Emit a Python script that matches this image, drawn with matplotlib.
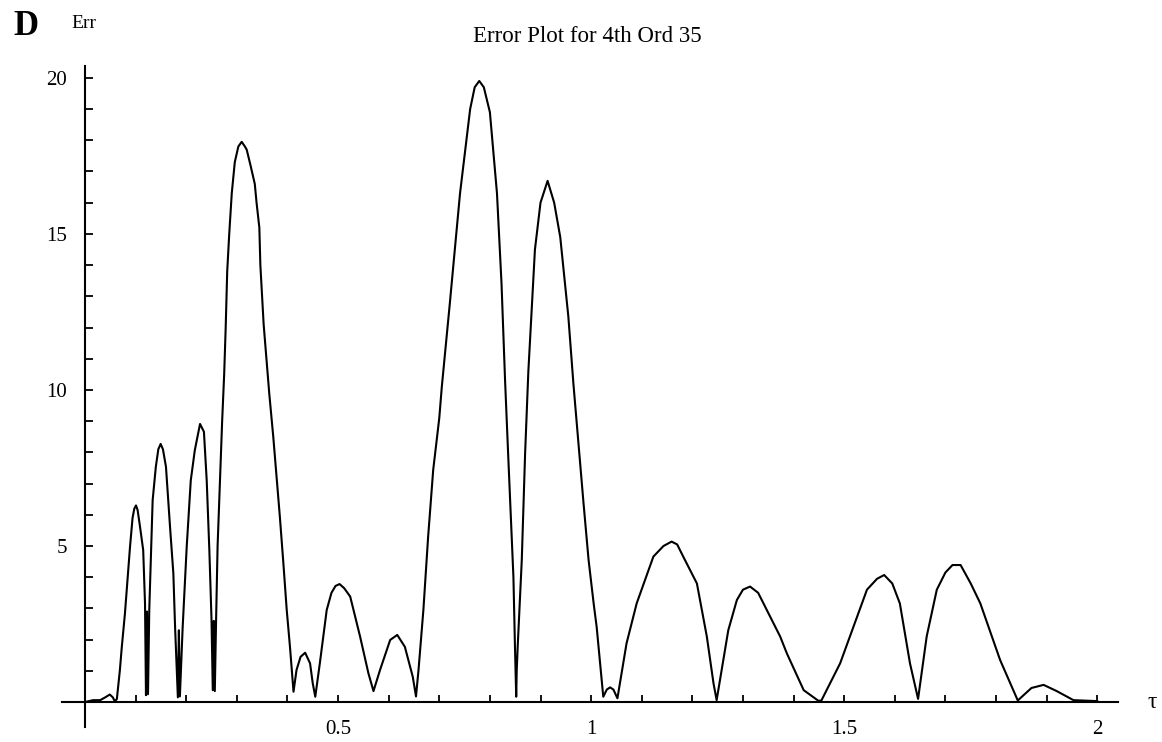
import numpy as np
import matplotlib.pyplot as plt
from matplotlib.ticker import MultipleLocator

#values
tau = [
    0.000, 0.016, 0.030, 0.040, 0.049, 0.055, 0.059, 0.063, 0.069, 0.0725,
    0.079, 0.084, 0.089, 0.094, 0.0975, 0.1008, 0.104, 0.1087, 0.115, 0.1186,
    0.1205, 0.1225, 0.1245, 0.127, 0.1337, 0.140, 0.1449, 0.1495, 0.154, 0.160,
    0.168, 0.1746, 0.178, 0.1835, 0.1855, 0.1875, 0.193, 0.201, 0.209, 0.217,
    0.2273, 0.235, 0.2405, 0.2457, 0.250, 0.2525, 0.2545, 0.2565, 0.259, 0.262,
    0.2665, 0.271, 0.275, 0.278, 0.281, 0.285, 0.290, 0.296, 0.303, 0.3096,
    0.316, 0.3195, 0.327, 0.3355, 0.339, 0.3445, 0.3465, 0.353, 0.3584, 0.364,
    0.372, 0.379, 0.385, 0.392, 0.3986, 0.405, 0.412, 0.418, 0.426, 0.435,
    0.4447, 0.450, 0.455, 0.464, 0.4776, 0.487, 0.495, 0.503, 0.512, 0.524,
    0.5435, 0.560, 0.570, 0.583, 0.603, 0.617, 0.632, 0.6476, 0.654, 0.659,
    0.6686, 0.678, 0.688, 0.700, 0.705, 0.721, 0.741, 0.761, 0.770, 0.779,
    0.788, 0.800, 0.814, 0.823, 0.830, 0.836, 0.8465, 0.8495, 0.851, 0.852,
    0.853, 0.855, 0.863, 0.8696, 0.876, 0.889, 0.900, 0.914, 0.927, 0.939,
    0.955, 0.965, 0.975, 0.985, 0.995, 1.005, 1.011, 1.024, 1.031, 1.0375,
    1.044, 1.052, 1.070, 1.090, 1.097, 1.123, 1.143, 1.159, 1.170, 1.182,
    1.209, 1.2286, 1.2418, 1.248, 1.258, 1.271, 1.288, 1.300, 1.314, 1.330,
    1.347, 1.3735, 1.3867, 1.420, 1.449, 1.455, 1.492, 1.545, 1.565, 1.579,
    1.595, 1.610, 1.630, 1.646, 1.663, 1.683, 1.700, 1.714, 1.730, 1.750,
    1.769, 1.808, 1.843, 1.870, 1.894, 1.920, 1.953, 2.000,
]
err = [
    0.00, 0.06, 0.06, 0.15, 0.24, 0.15, 0.02, 0.10, 1.03, 1.72,
    2.85, 3.90, 4.98, 5.90, 6.20, 6.30, 6.15, 5.62, 4.87, 3.16,
    0.22, 2.90, 0.25, 2.95, 6.47, 7.54, 8.10, 8.27, 8.10, 7.54,
    5.62, 4.12, 2.40, 0.15, 2.30, 0.18, 2.40, 4.98, 7.10, 8.07,
    8.91, 8.66, 7.10, 4.87, 2.63, 0.38, 2.60, 0.35, 2.60, 5.00,
    7.00, 9.00, 10.5, 12.0, 13.8, 15.0, 16.3, 17.3, 17.8, 17.95,
    17.8, 17.7, 17.2, 16.6, 16.0, 15.2, 14.0, 12.1, 11.0, 9.9,
    8.5, 7.1, 5.94, 4.44, 2.95, 1.77, 0.33, 1.03, 1.45, 1.58,
    1.24, 0.60, 0.17, 1.24, 2.95, 3.50, 3.72, 3.78, 3.65, 3.38,
    2.10, 0.92, 0.35, 1.03, 1.99, 2.15, 1.77, 0.81, 0.18, 1.03,
    2.95, 5.30, 7.44, 9.10, 10.1, 12.8, 16.3, 19.0, 19.7, 19.9,
    19.7, 18.9, 16.3, 13.4, 10.3, 7.97, 4.00, 1.80, 0.90, 0.17,
    1.00, 1.80, 4.55, 7.97, 10.6, 14.5, 16.0, 16.7, 16.0, 14.9,
    12.35, 10.2, 8.3, 6.37, 4.55, 3.16, 2.40, 0.17, 0.40, 0.47,
    0.40, 0.12, 1.88, 3.16, 3.48, 4.66, 5.00, 5.14, 5.05, 4.66,
    3.80, 2.10, 0.60, 0.06, 1.03, 2.30, 3.27, 3.60, 3.70, 3.50,
    2.95, 2.10, 1.56, 0.38, 0.04, 0.05, 1.24, 3.60, 3.95, 4.07,
    3.80, 3.16, 1.24, 0.10, 2.10, 3.60, 4.15, 4.39, 4.39, 3.80,
    3.16, 1.35, 0.05, 0.45, 0.55, 0.35, 0.06, 0.03,
]

x_ticks = [0.5, 1, 1.5, 2]
x_tick_labels = ['0.5', '1', '1.5', '2']
y_ticks = [5, 10, 15, 20]
y_tick_labels = ['5', '10', '15', '20']

W, H = 1162, 742
fig = plt.figure(figsize=(W / 100, H / 100), dpi=100)

#axes placed so that data (0,0) sits where the axes cross in the picture
x_lo, x_hi = -0.0464, 2.041
y_lo, y_hi = -0.8, 20.38
px_lo, px_hi = 61.5, 1118.0
py_lo, py_hi = 727.0, 66.0
ax = fig.add_axes([px_lo / W, 1 - py_lo / H, (px_hi - px_lo) / W, (py_lo - py_hi) / H])
ax.set_xlim(x_lo, x_hi)
ax.set_ylim(y_lo, y_hi)

ax.plot(tau, err, color='black', linewidth=1.5)

#mathematica style axes crossing at the origin
for side in ['top', 'right']:
    ax.spines[side].set_visible(False)
ax.spines['left'].set_position(('data', 0))
ax.spines['bottom'].set_position(('data', 0))
ax.spines['left'].set_linewidth(1.5)
ax.spines['bottom'].set_linewidth(1.5)

serif = ['Liberation Serif', 'DejaVu Serif']
ax.set_xticks(x_ticks)
ax.set_xticklabels(x_tick_labels, fontfamily=serif, fontsize=15)
ax.set_yticks(y_ticks)
ax.set_yticklabels(y_tick_labels, fontfamily=serif, fontsize=15)
ax.xaxis.set_minor_locator(MultipleLocator(0.1))
ax.yaxis.set_minor_locator(MultipleLocator(1))
ax.tick_params(axis='x', which='both', direction='in', length=5, width=1.3, pad=13)
ax.tick_params(axis='y', which='both', direction='in', length=6, width=1.3, pad=13)
ax.patch.set_visible(False)

#labels and title
fig.text(25.5 / W, 1 - 26.5 / H, 'D', fontfamily=serif, fontsize=25, fontweight='bold',
         ha='center', va='center')
fig.text(83.5 / W, 1 - 23.5 / H, 'Err', fontfamily=serif, fontsize=14,
         ha='center', va='center')
fig.text(587 / W, 1 - 37 / H, 'Error Plot for 4th Ord 35', fontfamily=serif, fontsize=16.5,
         ha='center', va='center')
fig.text(1152 / W, 1 - 703 / H, 'τ', fontfamily=serif, fontsize=17,
         ha='center', va='center')

plt.savefig('out.png', dpi=100)
